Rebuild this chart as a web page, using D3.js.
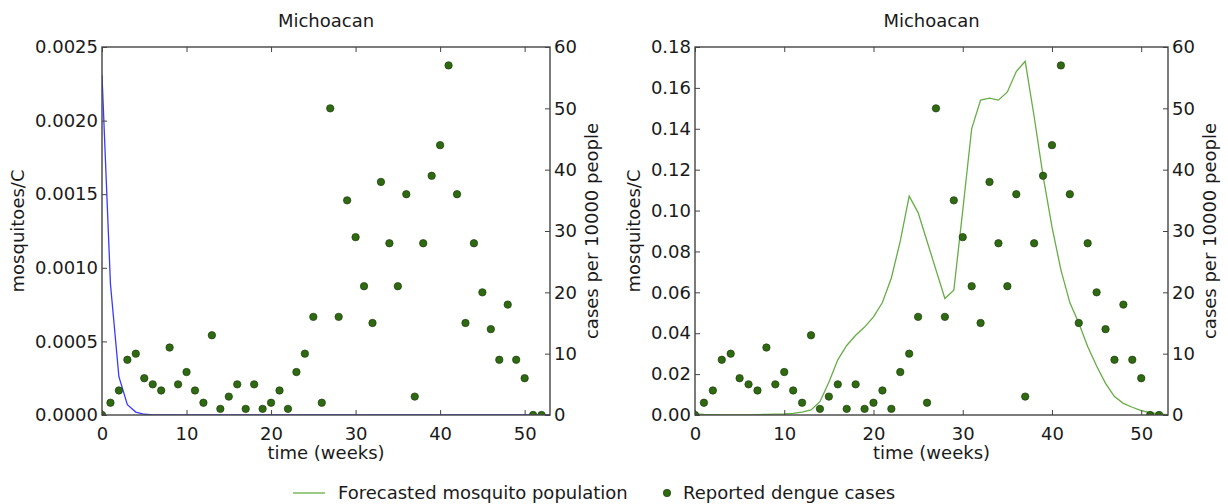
<!DOCTYPE html>
<html>
<head>
<meta charset="utf-8">
<script src="https://cdn.jsdelivr.net/npm/d3@7"></script>
<style>
    body { margin: 0; background: #fff; }
    svg text { font-family: "DejaVu Sans", sans-serif; fill: #1a1a1a; }
</style>
</head>
<body>
<div id="chart"></div>
<script>
// weeks of the year
var weeks = [0, 1, 2, 3, 4, 5, 6, 7, 8, 9, 10, 11, 12, 13, 14, 15, 16, 17, 18, 19, 20,
    21, 22, 23, 24, 25, 26, 27, 28, 29, 30, 31, 32, 33, 34, 35, 36, 37, 38, 39, 40,
    41, 42, 43, 44, 45, 46, 47, 48, 49, 50, 51, 52, 53];

// reported dengue cases per 10000 people (weeks 0..52)
var cases = [0, 2, 4, 9, 10, 6, 5, 4, 11, 5, 7, 4, 2, 13, 1, 3, 5, 1, 5, 1, 2,
    4, 1, 7, 10, 16, 2, 50, 16, 35, 29, 21, 15, 38, 28, 21, 36, 3, 28, 39, 44,
    57, 36, 15, 28, 20, 14, 9, 18, 9, 6, 0, 0];

// left panel: mosquitoes/C (blue)
var mosqLeft = [0.00231, 0.00089, 0.00026, 0.00007, 0.00002, 0.000005, 0.000001, 0, 0, 0, 0,
    0, 0, 0, 0, 0, 0, 0, 0, 0, 0, 0, 0, 0, 0, 0, 0, 0, 0, 0, 0, 0, 0, 0, 0, 0, 0,
    0, 0, 0, 0, 0, 0, 0, 0, 0, 0, 0, 0, 0, 0, 0, 0, 0];

// right panel: forecasted mosquito population (green)
var mosqRight = [0.0005, 0.0003, 0.0002, 0.0001, 0.0001, 0.0001, 0.0001, 0.0002, 0.0003, 0.0004,
    0.0005, 0.0008, 0.0014, 0.0025, 0.0065, 0.016, 0.027, 0.034, 0.039, 0.043,
    0.048, 0.055, 0.067, 0.085, 0.107, 0.099, 0.085, 0.071, 0.057, 0.061,
    0.100, 0.140, 0.154, 0.155, 0.154, 0.158, 0.168, 0.173, 0.146, 0.117,
    0.092, 0.071, 0.055, 0.045, 0.0335, 0.024, 0.0155, 0.009, 0.0057, 0.0038,
    0.0021, 0.0011, 0.0005, 0.0002];

var xTicks = [0, 10, 20, 30, 40, 50];
var leftTicks = [0, 0.0005, 0.0010, 0.0015, 0.0020, 0.0025];
var rightPanelTicks = [0, 0.02, 0.04, 0.06, 0.08, 0.10, 0.12, 0.14, 0.16, 0.18];
var caseTicks = [0, 10, 20, 30, 40, 50, 60];

var title = "Michoacan";
var legendLabels = ["Forecasted mosquito population", "Reported dengue cases"];

var svg = d3.select("#chart")
    .append("svg")
    .attr("width", 1228)
    .attr("height", 504);

function renderPanel(p) {
    var g = svg.append("g");
    var w = p.x1 - p.x0, h = p.y1 - p.y0;

    var x = d3.scaleLinear().domain([0, 53]).range([p.x0, p.x1]);
    var y = d3.scaleLinear().domain([0, p.yMax]).range([p.y1, p.y0]);
    var y2 = d3.scaleLinear().domain([0, 60]).range([p.y1, p.y0]);

    // clip to plot area
    g.append("clipPath").attr("id", p.id)
        .append("rect").attr("x", p.x0).attr("y", p.y0).attr("width", w).attr("height", h);

    // model line
    var line = d3.line()
        .x(function (d, i) { return x(weeks[i]); })
        .y(function (d) { return y(d); });

    g.append("path")
        .datum(p.series)
        .attr("clip-path", "url(#" + p.id + ")")
        .attr("fill", "none")
        .attr("stroke", p.color)
        .attr("stroke-width", 1.3)
        .attr("d", line);

    // dots (twin axis)
    g.append("g")
        .attr("clip-path", "url(#" + p.id + ")")
        .selectAll("circle")
        .data(cases)
        .enter().append("circle")
        .attr("cx", function (d, i) { return x(weeks[i]); })
        .attr("cy", function (d) { return y2(d); })
        .attr("r", 3.7)
        .attr("fill", "#2f6a12")
        .attr("stroke", "#1b3d0a")
        .attr("stroke-width", 0.7);

    // ticks, all pointing inward
    var tickStyle = function (sel) {
        sel.select(".domain").remove();
        sel.selectAll(".tick line").attr("stroke", "#444").attr("stroke-width", 1);
        sel.selectAll(".tick text").attr("font-size", "18px").attr("fill", "#1a1a1a");
    };

    g.append("g")
        .attr("transform", "translate(0," + p.y1 + ")")
        .call(d3.axisBottom(x).tickValues(xTicks).tickSizeInner(-5).tickPadding(9).tickFormat(d3.format("d")))
        .call(tickStyle)
        .selectAll(".tick text").attr("dy", "0.9em");

    g.append("g")
        .attr("transform", "translate(0," + p.y0 + ")")
        .call(d3.axisTop(x).tickValues(xTicks).tickSizeInner(-5).tickFormat(""))
        .call(tickStyle);

    g.append("g")
        .attr("transform", "translate(" + p.x0 + ",0)")
        .call(d3.axisLeft(y).tickValues(p.yTicks).tickSizeInner(-5).tickPadding(4).tickFormat(d3.format(p.yFormat)))
        .call(tickStyle);

    g.append("g")
        .attr("transform", "translate(" + p.x1 + ",0)")
        .call(d3.axisRight(y2).tickValues(caseTicks).tickSizeInner(-5).tickPadding(4).tickFormat(d3.format("d")))
        .call(tickStyle);

    // frame
    g.append("rect")
        .attr("x", p.x0).attr("y", p.y0).attr("width", w).attr("height", h)
        .attr("fill", "none")
        .attr("stroke", "#444")
        .attr("stroke-width", 1.4);

    // title & labels
    g.append("text")
        .attr("x", (p.x0 + p.x1) / 2).attr("y", 27)
        .attr("text-anchor", "middle")
        .attr("font-size", "18px")
        .text(title);

    g.append("text")
        .attr("x", (p.x0 + p.x1) / 2).attr("y", 459)
        .attr("text-anchor", "middle")
        .attr("font-size", "18px")
        .text("time (weeks)");

    g.append("text")
        .attr("transform", "translate(" + p.yLabelX + "," + (p.y0 + p.y1) / 2 + ") rotate(-90)")
        .attr("text-anchor", "middle")
        .attr("font-size", "18px")
        .text("mosquitoes/C");

    g.append("text")
        .attr("transform", "translate(" + p.y2LabelX + "," + (p.y0 + p.y1) / 2 + ") rotate(-90)")
        .attr("text-anchor", "middle")
        .attr("font-size", "18px")
        .text("cases per 10000 people");
}

renderPanel({id: "clipL", x0: 102, x1: 550, y0: 47, y1: 415, yMax: 0.0025,
    yTicks: leftTicks, yFormat: ".4f", series: mosqLeft, color: "#3a3aff",
    yLabelX: 24, y2LabelX: 598});

renderPanel({id: "clipR", x0: 695, x1: 1168, y0: 47, y1: 415, yMax: 0.18,
    yTicks: rightPanelTicks, yFormat: ".2f", series: mosqRight, color: "#67ad45",
    yLabelX: 640, y2LabelX: 1216});

// legend
var legend = svg.append("g").attr("transform", "translate(0,493)");
legend.append("line")
    .attr("x1", 293).attr("x2", 325)
    .attr("stroke", "#67ad45").attr("stroke-width", 1.3);
legend.append("text")
    .attr("x", 338).attr("y", 0).attr("dy", "0.35em")
    .attr("font-size", "18px")
    .text(legendLabels[0]);
legend.append("circle")
    .attr("cx", 667).attr("cy", 0).attr("r", 3.7)
    .attr("fill", "#2f6a12").attr("stroke", "#1b3d0a").attr("stroke-width", 0.7);
legend.append("text")
    .attr("x", 683).attr("y", 0).attr("dy", "0.35em")
    .attr("font-size", "18px")
    .text(legendLabels[1]);
</script>
</body>
</html>
